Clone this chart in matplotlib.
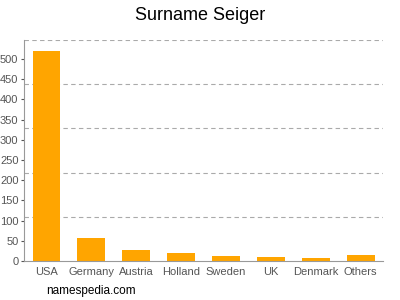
import matplotlib
matplotlib.use("Agg")
import matplotlib.pyplot as plt
import numpy as np

plt.rcParams["font.family"] = ["Liberation Sans", "DejaVu Sans"]

countries = ["USA", "Germany", "Austria", "Holland", "Sweden", "UK", "Denmark", "Others"]
counts = [520, 56, 27, 19, 13, 10, 7, 16]
yticks = [0, 50, 100, 150, 200, 250, 300, 350, 400, 450, 500]
ymax = 547

fig = plt.figure(figsize=(4, 3), dpi=100)
ax = fig.add_axes([0.06, 0.13, 0.898, 0.737])

x = np.arange(len(countries))
ax.bar(x, counts, width=0.62, color="#ffa500", zorder=2)

ax.set_xlim(-0.5, len(countries) - 0.5)
ax.set_ylim(0, ymax)
ax.set_yticks(yticks)
ax.set_xticks(x)
ax.set_xticklabels(countries)
ax.tick_params(axis="both", colors="#555555", labelsize=8, length=2, width=0.8, pad=2)
ax.tick_params(axis="x", length=0, pad=4)

for g in np.linspace(0, ymax, 6)[1:]:
    ax.axhline(g, color="#aaaaaa", linestyle=(0, (4, 3)), linewidth=0.8, zorder=1)

for s in ["top", "right"]:
    ax.spines[s].set_visible(False)
ax.spines["left"].set_color("#999999")
ax.spines["bottom"].set_color("#999999")

fig.text(0.5, 0.95, "Surname Seiger", ha="center", va="center", fontsize=13)
fig.text(0.115, 0.03, "namespedia.com", ha="left", va="center", fontsize=8.5)

fig.savefig("out.png", dpi=100)
